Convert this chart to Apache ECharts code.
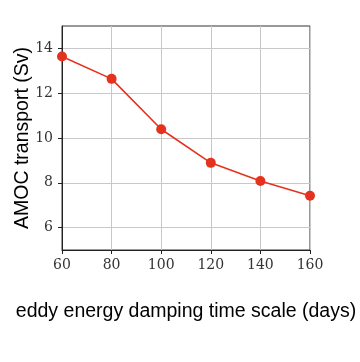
<!DOCTYPE html>
<html><head><meta charset="utf-8">
<script src="https://cdn.jsdelivr.net/npm/echarts@6/dist/echarts.min.js"></script>
<style>html,body{margin:0;padding:0;background:#fff}#c{width:360px;height:362px}</style>
</head><body><div id="c"></div>
<script>
const xValues = [60, 80, 100, 120, 140, 160];
const amocValues = [13.64, 12.64, 10.39, 8.89, 8.08, 7.42];
const yTicks = [6, 8, 10, 12, 14];
const xTicks = [60, 80, 100, 120, 140, 160];
const xTitle = 'eddy energy damping time scale (days)';
const yTitle = 'AMOC transport (Sv)';

const chart = echarts.init(document.getElementById('c'));
chart.setOption({
  animation: false,
  grid: {left: 62, top: 26, width: 248, height: 224, show: true, borderColor: '#333', borderWidth: 1, containLabel: false},
  xAxis: {
    type: 'value', min: 60, max: 160,
    axisLine: {show: true, onZero: false, lineStyle: {color: '#222', width: 1}},
    axisTick: {show: true, inside: false, length: 4, customValues: xTicks, lineStyle: {color: '#222'}},
    axisLabel: {customValues: xTicks, margin: 8, fontFamily: 'DejaVu Serif', fontSize: 14, color: '#333'},
    splitLine: {show: true, lineStyle: {color: '#c8c8c8', width: 1}}
  },
  yAxis: {
    type: 'value', min: 5, max: 15,
    axisLine: {show: true, onZero: false, lineStyle: {color: '#222', width: 1}},
    axisTick: {show: true, inside: false, length: 4, customValues: yTicks, lineStyle: {color: '#222'}},
    axisLabel: {customValues: yTicks, margin: 9, fontFamily: 'DejaVu Serif', fontSize: 14, color: '#333'},
    splitLine: {show: true, lineStyle: {color: '#c8c8c8', width: 1}}
  },
  graphic: [
    {type: 'text', x: 186, y: 312, style: {text: xTitle, font: '19.5px "Liberation Sans", Arial, sans-serif', fill: '#000', align: 'center', verticalAlign: 'middle'}},
    {type: 'text', x: 23, y: 138, rotation: Math.PI/2, style: {text: yTitle, font: '19.5px "Liberation Sans", Arial, sans-serif', fill: '#000', align: 'center', verticalAlign: 'middle'}}
  ],
  series: [{
    type: 'line',
    data: xValues.map((x, i) => [x, amocValues[i]]),
    symbol: 'circle', symbolSize: 10,
    itemStyle: {color: '#e5321f'},
    lineStyle: {color: '#e5321f', width: 1.6},
    clip: false
  }]
});
</script></body></html>
